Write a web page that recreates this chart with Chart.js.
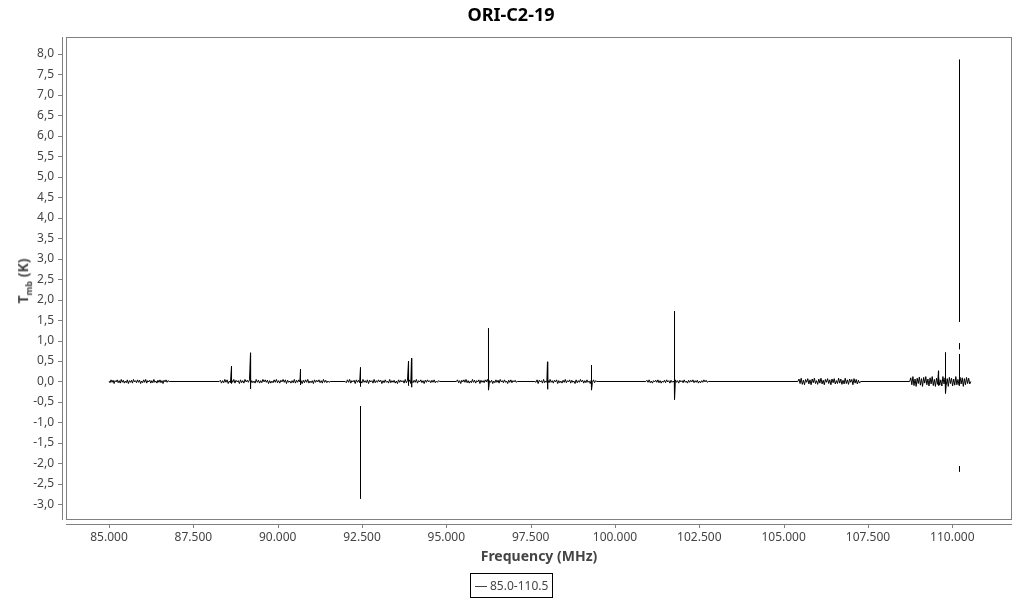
<!DOCTYPE html>
<html>
<head>
<meta charset="utf-8">
<title>ORI-C2-19</title>
<script src="https://cdn.jsdelivr.net/npm/chart.js@4.4.1/dist/chart.umd.min.js"></script>
<style>
body { margin: 0; background: #fff; font-family: "Noto Sans", sans-serif; }
#wrap { position: relative; width: 1024px; height: 600px; overflow: hidden; }
#chart { position: absolute; left: 0; top: 0; }
#title { position: absolute; left: 0; top: 2px; width: 1022px; text-align: center; font-weight: bold; font-size: 18px; color: #000; }
#ytitle { position: absolute; left: 24px; top: 281px; transform: translate(-50%, -50%) rotate(-90deg); white-space: nowrap; font-weight: bold; font-size: 14px; color: #444; }
#ytitle sub { font-size: 9px; }
#legend { position: absolute; left: 470px; top: 573px; width: 81px; height: 23px; border: 1px solid #000; font-size: 12px; color: #444; line-height: 23px; white-space: nowrap; }
#legend .swatch { position: absolute; left: 4px; top: 12px; width: 12px; border-top: 1px solid #444; }
#legend .txt { position: absolute; left: 19px; top: 0; }
</style>
</head>
<body>
<div id="wrap">
    <canvas id="chart" width="1024" height="600"></canvas>
    <div id="title">ORI-C2-19</div>
    <div id="ytitle">T<sub>mb</sub> (K)</div>
    <div id="legend"><span class="swatch"></span><span class="txt" id="legendText"></span></div>
</div>
<script>
var chartTitle = "ORI-C2-19"
var seriesLabel = "85.0-110.5"
var xMin = 83725, xMax = 111770
var yMin = -3.384, yMax = 8.416
var xTicks = [85000, 87500, 90000, 92500, 95000, 97500, 100000, 102500, 105000, 107500, 110000]
var yTicks = [-3, -2.5, -2, -1.5, -1, -0.5, 0, 0.5, 1, 1.5, 2, 2.5, 3, 3.5, 4, 4.5, 5, 5.5, 6, 6.5, 7, 7.5, 8]

// observed sub-bands (MHz)
var segStart = [85000, 88268, 92002, 95300, 97626, 100915, 105422, 108737]
var segEnd = [86783, 91557, 94804, 97103, 99459, 102766, 107282, 110549]

// baseline noise (K)
var noise1 = [.01,-.03,.04,-.02,.03,-.05,.02,-.01,.04,-.03, .02,-.04,.05,-.02,.03,-.04,.01,-.03,.04,-.05,
    .02,-.02,.03,-.04,.05,-.01,.02,-.03,.04,-.02, .03,-.05,.01,-.03,.04,-.02,.05,-.04,.02,-.01,
    .03,-.04,.02,-.03,.05,-.02,.01,-.04,.03,-.02, .04,-.03,.02,-.05,.03,-.01,.04,-.02,.02,0]
var noise2 = [0,.03,-.04,.02,-.03,.05,-.02,.04,-.05,.01, -.03,.04,-.02,.05,-.04,.03,-.01,.02,-.05,.04,
    -.03,.02,-.04,.05,-.01,.03,-.02,.04,-.05,.02, -.03,.01,-.04,.05,-.02,.03,-.04,.02,-.03,.05,
    -.01,.04,-.02,.03,-.05,.02,-.04,.01,-.03,.04, -.02,.05,-.03,.02,-.04,.03,-.01,.05,-.02,.04,
    -.05,.03,-.02,.01,-.04,.02,-.03,.05,-.04,.03, -.02,.04,-.01,.02,-.05,.03,-.03,.04,-.02,.05,
    -.04,.01,-.03,.02,-.05,.04,-.02,.03,-.01,.04, -.03,.02,-.04,.05,-.02,.03,-.03,.01,-.02,0]
var noise3 = [0,-.03,.04,-.02,.05,-.04,.02,-.01,.03,-.05, .04,-.02,.03,-.03,.01,-.04,.05,-.02,.02,-.03,
    .04,-.05,.03,-.01,.02,-.04,.05,-.03,.02,-.02, .04,-.01,.03,-.05,.02,-.03,.04,-.02,.01,-.04,
    .05,-.03,.02,-.02,.03,-.04,.01,-.05,.04,-.02, .03,-.01,.02,-.04,.05,-.03,.02,-.02,.04,-.05,
    .01,-.03,.03,-.02,.05,-.04,.02,-.01,.04,-.03, .02,-.05,.03,-.02,.04,-.01,.02,-.03,.03,-.02,
    .04,-.03,.01,-.02,.02,0]
var noise4 = [0,.04,-.03,.02,-.05,.03,-.01,.04,-.02,.05, -.03,.02,-.04,.01,-.03,.05,-.02,.03,-.04,.02,
    -.01,.04,-.05,.03,-.02,.02,-.03,.04,-.01,.05, -.04,.02,-.02,.03,-.05,.01,-.03,.04,-.02,.03,
    -.04,.05,-.01,.02,-.03,.04,-.02,.01,-.05,.03, -.02,.04,-.03,.02,-.01,.03,-.02,0]
var noise5 = [0,-.02,.04,-.05,.03,-.01,.02,-.04,.05,-.03, .01,-.02,.04,-.03,.05,-.02,.02,-.04,.03,-.01,
    .04,-.05,.02,-.03,.01,-.04,.03,-.02,.05,-.03, .02,-.01,.04,-.04,.03,-.02,.01,-.05,.04,-.03,
    .02,-.02,.05,-.01,.03,-.04,.02,-.03,.04,-.02, .01,-.05,.03,-.02,.04,-.03,.02,0]
var noise6 = [0,.03,-.02,.04,-.03,.01,-.04,.02,-.01,.03, -.02,.04,-.03,.02,-.04,.01,-.02,.03,-.03,.04,
    -.01,.02,-.04,.03,-.02,.01,-.03,.04,-.02,.02, -.04,.03,-.01,.02,-.03,.04,-.02,.01,-.04,.03,
    -.02,.03,-.01,.04,-.03,.02,-.02,.03,-.04,.01, -.03,.02,-.02,.04,-.01,.03,-.02,0]
var noise7 = [0,.06,-.05,.08,-.07,.03,-.08,.05,-.02,.07, -.06,.04,-.08,.06,-.03,.08,-.05,.02,-.07,.06,
    -.04,.08,-.06,.03,-.08,.05,-.02,.07,-.05,.04, -.08,.06,-.03,.07,-.06,.02,-.05,.08,-.04,.06,
    -.07,.03,-.06,.08,-.05,.04,-.07,.06,-.02,.05, -.08,.07,-.04,.05,-.06,.03,-.04,0]
var noise8 = [0,.09,-.08,.12,-.10,.06,-.12,.08,-.05,.11, -.09,.07,-.12,.10,-.04,.12,-.08,.06,-.11,.09,
    -.06,.12,-.10,.05,-.12,.08,-.07,.11,-.09,.04, -.11,.12,-.06,.09,-.10,.07,-.12,.10,-.05,.08,
    -.11,.06,-.09,.12,-.08,.05,-.10,.11,-.06,.09, -.12,.07,-.08,.10,-.05,.08,-.06,0]
var noiseSets = [noise1, noise2, noise3, noise4, noise5, noise6, noise7, noise8]

// emission / absorption lines (MHz, K)
var spikeFreq = [88631, 89195, 90677, 92456, 93879, 93968, 96250, 97999, 99304, 101765, 109591, 109799, 110214]
var spikeTop = [0.37, 0.70, 0.30, 0.34, 0.50, 0.57, 1.30, 0.48, 0.40, 1.72, 0.26, 0.71, 0.67]
var spikeBot = [-0.05, -0.18, -0.08, -0.12, -0.10, -0.14, -0.21, -0.19, -0.21, -0.44, -0.10, -0.29, -0.05]

// detached pieces of the strongest lines
var pieceFreq = [92456, 110214, 110214, 110214]
var pieceTop = [-0.60, 7.86, 0.93, -2.07]
var pieceBot = [-2.86, 1.46, 0.79, -2.20]

var fontFamily = '"Noto Sans", sans-serif'

function fmtX(v) {
    return String(Math.round(v)).replace(/\B(?=(\d{3})+(?!\d))/g, ".")
}
function fmtY(v) {
    return v.toFixed(1).replace(".", ",")
}

function buildPoints() {
    var pts = []
    noiseSets.forEach(function (vals, k) {
        var step = (segEnd[k] - segStart[k]) / (vals.length - 1)
        vals.forEach(function (v, i) {
            pts.push({ x: segStart[k] + i * step, y: v, o: 0 })
        })
    })
    spikeFreq.forEach(function (f, i) {
        pts.push({ x: f, y: spikeTop[i], o: 1 })
        pts.push({ x: f, y: spikeBot[i], o: 2 })
    })
    pieceFreq.forEach(function (f, i) {
        pts.push({ x: f, y: null, o: 3 + i * 4 })
        pts.push({ x: f, y: pieceTop[i], o: 4 + i * 4 })
        pts.push({ x: f, y: pieceBot[i], o: 5 + i * 4 })
        pts.push({ x: f, y: null, o: 6 + i * 4 })
    })
    pts.sort(function (a, b) { return (a.x - b.x) || (a.o - b.o) })
    return pts.map(function (p) { return { x: p.x, y: p.y } })
}

var axisFrame = {
    id: "axisFrame",
    beforeDatasetsDraw(chart) {
        var ctx = chart.ctx, a = chart.chartArea
        ctx.save()
        ctx.strokeStyle = "#808080"
        ctx.lineWidth = 1
        ctx.strokeRect(a.left + 0.5, a.top + 0.5, a.right - a.left - 1, a.bottom - a.top - 1)
        ctx.beginPath()
        ctx.moveTo(a.left - 3.5, a.top)
        ctx.lineTo(a.left - 3.5, a.bottom)
        ctx.moveTo(a.left, a.bottom + 4.5)
        ctx.lineTo(a.right, a.bottom + 4.5)
        yTicks.forEach(function (v) {
            var y = Math.round(chart.scales.y.getPixelForValue(v)) + 0.5
            ctx.moveTo(a.left - 8, y)
            ctx.lineTo(a.left - 3.5, y)
        })
        xTicks.forEach(function (v) {
            var x = Math.round(chart.scales.x.getPixelForValue(v)) + 0.5
            ctx.moveTo(x, a.bottom + 4.5)
            ctx.lineTo(x, a.bottom + 8)
        })
        ctx.stroke()
        ctx.restore()
    }
}

document.getElementById("title").textContent = chartTitle
document.getElementById("legendText").textContent = seriesLabel

new Chart(document.getElementById("chart").getContext("2d"), {
    type: "line",
    data: {
        datasets: [{
            label: seriesLabel,
            data: buildPoints(),
            borderColor: "#000",
            borderWidth: 1,
            pointRadius: 0,
            tension: 0,
            spanGaps: false,
            fill: false,
        }],
    },
    options: {
        responsive: false,
        animation: false,
        layout: { padding: { top: 37, right: 12, left: 0, bottom: 0 } },
        plugins: {
            legend: { display: false },
            title: { display: false },
            tooltip: { enabled: false },
        },
        scales: {
            x: {
                type: "linear",
                min: xMin,
                max: xMax,
                grid: { display: false },
                border: { display: false },
                afterBuildTicks: function (s) { s.ticks = xTicks.map(function (v) { return { value: v } }) },
                afterFit: function (s) { s.height = 80 },
                ticks: { padding: 2, color: "#444", autoSkip: false, maxRotation: 0, font: { family: fontFamily, size: 12 }, callback: fmtX },
                title: { display: true, text: "Frequency (MHz)", color: "#444", font: { family: fontFamily, size: 14, weight: "bold" }, padding: { top: 0, bottom: 35 } },
            },
            y: {
                type: "linear",
                min: yMin,
                max: yMax,
                grid: { display: false },
                border: { display: false },
                afterBuildTicks: function (s) { s.ticks = yTicks.map(function (v) { return { value: v } }) },
                afterFit: function (s) { s.width = 66 },
                ticks: { padding: 4, color: "#444", autoSkip: false, font: { family: fontFamily, size: 12 }, callback: fmtY },
            },
        },
    },
    plugins: [axisFrame],
})
</script>
</body>
</html>
